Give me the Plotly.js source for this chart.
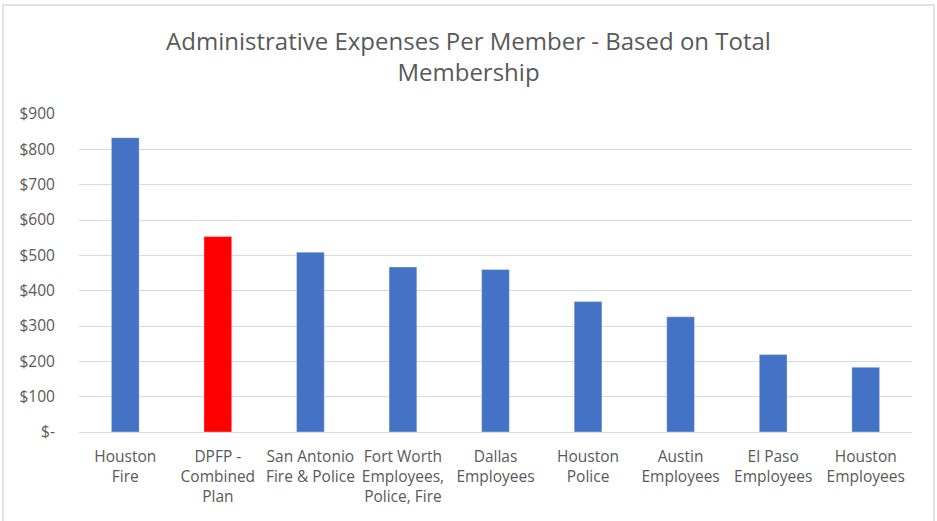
<!DOCTYPE html>
<html>
<head>
<meta charset="utf-8">
<script src="https://cdn.plot.ly/plotly-3.0.1.min.js"></script>
<style>html,body{margin:0;padding:0;background:#fff;}#chart{width:937px;height:521px;}</style>
</head>
<body>
<div id="chart"></div>
<script>
const categories = ["Houston<br>Fire", "DPFP -<br>Combined<br>Plan", "San Antonio<br>Fire & Police", "Fort Worth<br>Employees,<br>Police, Fire", "Dallas<br>Employees", "Houston<br>Police", "Austin<br>Employees", "El Paso<br>Employees", "Houston<br>Employees"];
const values = [833, 553, 509, 467, 460, 369, 326, 219, 183];
const barColors = ["#4472C4", "#FF0000", "#4472C4", "#4472C4", "#4472C4", "#4472C4", "#4472C4", "#4472C4", "#4472C4"];
const tickValues = [0, 100, 200, 300, 400, 500, 600, 700, 800, 900];
const tickLabels = ["$-", "$100", "$200", "$300", "$400", "$500", "$600", "$700", "$800", "$900"];

const font = "Open Sans, Noto Sans, sans-serif";
const trace = {
  type: "bar",
  x: categories,
  y: values,
  width: 0.3,
  marker: {color: barColors, line: {color: "rgba(255,255,255,0.35)", width: 1}},
  hoverinfo: "x+y"
};
const W = 833, H = 318;
const layout = {
  width: 937, height: 521,
  margin: {l: 79, r: 25, t: 114, b: 89},
  paper_bgcolor: "#fff", plot_bgcolor: "#fff",
  showlegend: false,
  bargap: 0.7,
  title: {text: "Administrative Expenses Per Member - Based on Total<br>Membership", x: 0.5, xanchor: "center", yref: "container", y: 1 - 50 / 521, yanchor: "middle", font: {family: font, size: 24, color: "#595959"}},
  xaxis: {
    type: "category",
    tickfont: {family: font, size: 15.5, color: "#595959"},
    showgrid: false, zeroline: false,
    showline: true, linecolor: "#d9d9d9", linewidth: 1,
    ticks: "outside", ticklen: 10, tickcolor: "rgba(0,0,0,0)",
    tickangle: 0, fixedrange: true
  },
  yaxis: {
    range: [0, 900],
    tickvals: tickValues, ticktext: tickLabels,
    tickfont: {family: font, size: 15.5, color: "#595959"},
    showgrid: true, gridcolor: "#d9d9d9", gridwidth: 1,
    zeroline: false, showline: false,
    ticks: "outside", ticklen: 20, tickcolor: "rgba(0,0,0,0)",
    fixedrange: true
  },
  shapes: [{
    type: "rect", xref: "paper", yref: "paper",
    x0: (3 - 79) / W, x1: (934 - 79) / W,
    y0: (432 - 530) / H, y1: (432 - 5) / H,
    line: {color: "#d9d9d9", width: 1.5}, fillcolor: "rgba(0,0,0,0)", layer: "below"
  }]
};
Plotly.newPlot("chart", [trace], layout, {displayModeBar: false, staticPlot: true});
</script>
</body>
</html>
